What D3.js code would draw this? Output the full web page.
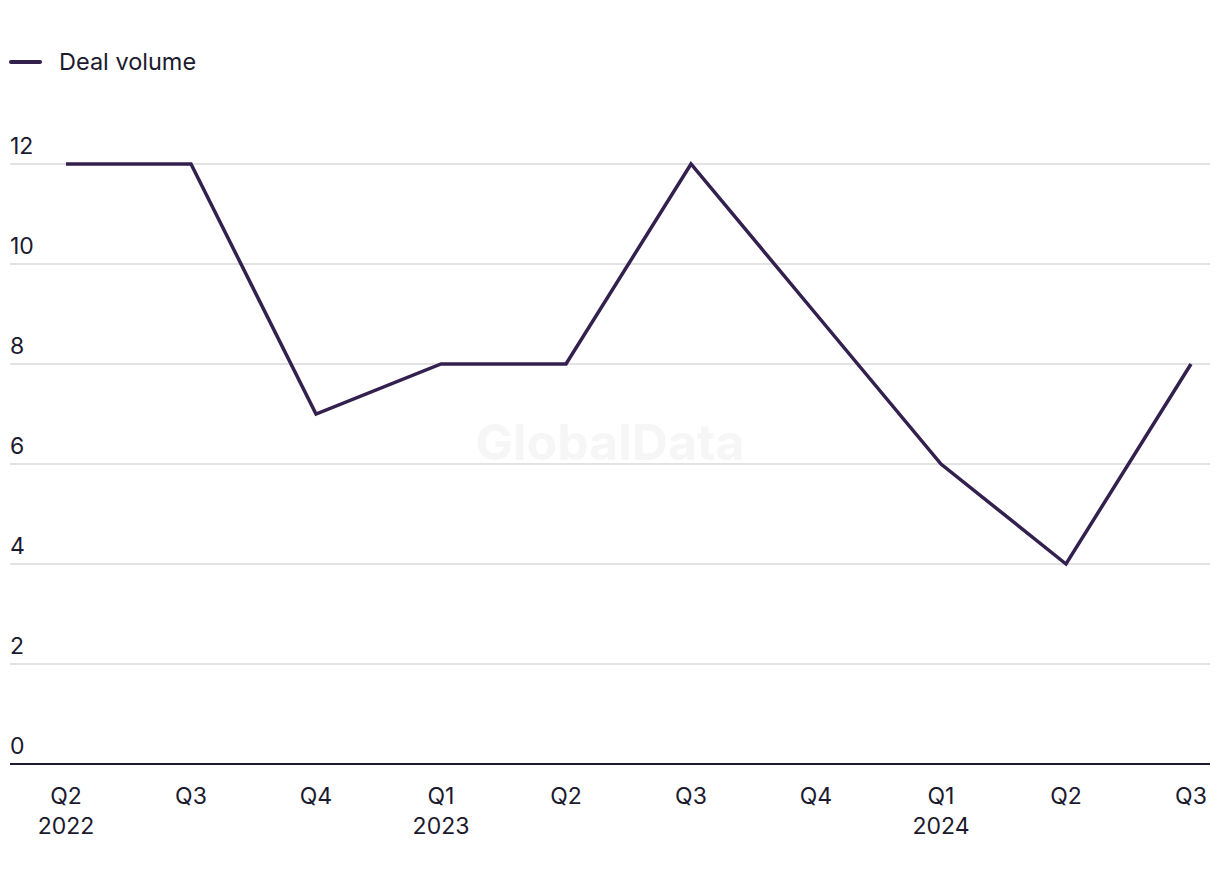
<!DOCTYPE html>
<html>
<head>
<meta charset="utf-8">
<script src="https://cdn.jsdelivr.net/npm/d3@7"></script>
<style>
  body { margin: 0; background: #fff; }
  text { font-family: "Inter", "Noto Sans", sans-serif; fill: #1b1a2e; }
</style>
</head>
<body>
<div class="chart"></div>
<script>
var quarters = ["Q2", "Q3", "Q4", "Q1", "Q2", "Q3", "Q4", "Q1", "Q2", "Q3"];
var years = ["2022", "", "", "2023", "", "", "", "2024", "", ""];
var dealVolume = [12, 12, 7, 8, 8, 12, 9, 6, 4, 8];
var yTicks = [0, 2, 4, 6, 8, 10, 12];

var WIDTH = 1220, HEIGHT = 884;
var color = "#33204f";

var svg = d3.select(".chart").append("svg")
    .attr("width", WIDTH)
    .attr("height", HEIGHT);

var xScale = d3.scalePoint()
    .domain(d3.range(quarters.length))
    .range([66, 1191]);

var yScale = d3.scaleLinear()
    .domain([0, 12])
    .range([764, 164]);

// watermark
svg.append("text")
    .attr("x", 610)
    .attr("y", 460)
    .attr("text-anchor", "middle")
    .style("font-size", "50px")
    .style("font-weight", "bold")
    .style("fill", "#f6f6f6")
    .text("GlobalData");

// gridlines + labels
var yAxis = svg.append("g");
yAxis.selectAll("line")
    .data(yTicks.filter(function (d) { return d > 0; }))
    .enter()
    .append("line")
    .attr("x1", 10)
    .attr("x2", 1210)
    .attr("y1", function (d) { return yScale(d); })
    .attr("y2", function (d) { return yScale(d); })
    .attr("stroke", "#d9d9d9")
    .attr("stroke-width", 1.5);

yAxis.selectAll("text")
    .data(yTicks)
    .enter()
    .append("text")
    .attr("x", 10)
    .attr("y", function (d) { return yScale(d) - 10; })
    .style("font-size", "23px")
    .text(function (d) { return d; });

// baseline
svg.append("line")
    .attr("x1", 10)
    .attr("x2", 1210)
    .attr("y1", yScale(0))
    .attr("y2", yScale(0))
    .attr("stroke", "#1b1a2e")
    .attr("stroke-width", 2);

// x labels
var xLabels = svg.append("g").selectAll("g")
    .data(quarters)
    .enter()
    .append("g")
    .attr("transform", function (d, i) { return "translate(" + xScale(i) + ",0)"; });

xLabels.append("text")
    .attr("y", 804)
    .attr("text-anchor", "middle")
    .style("font-size", "23px")
    .text(function (d) { return d; });

xLabels.append("text")
    .attr("y", 834)
    .attr("text-anchor", "middle")
    .style("font-size", "23px")
    .text(function (d, i) { return years[i]; });

// line
var line = d3.line()
    .x(function (d, i) { return xScale(i); })
    .y(function (d) { return yScale(d); });

svg.append("path")
    .datum(dealVolume)
    .attr("d", line)
    .attr("fill", "none")
    .attr("stroke", color)
    .attr("stroke-width", 3.5)
    .attr("stroke-linejoin", "miter");

// legend
var legend = svg.append("g");
legend.append("line")
    .attr("x1", 11)
    .attr("x2", 40)
    .attr("y1", 62)
    .attr("y2", 62)
    .attr("stroke", color)
    .attr("stroke-width", 4)
    .attr("stroke-linecap", "round");
legend.append("text")
    .attr("x", 59)
    .attr("y", 70)
    .style("font-size", "23.5px")
    .text("Deal volume");
</script>
</body>
</html>
